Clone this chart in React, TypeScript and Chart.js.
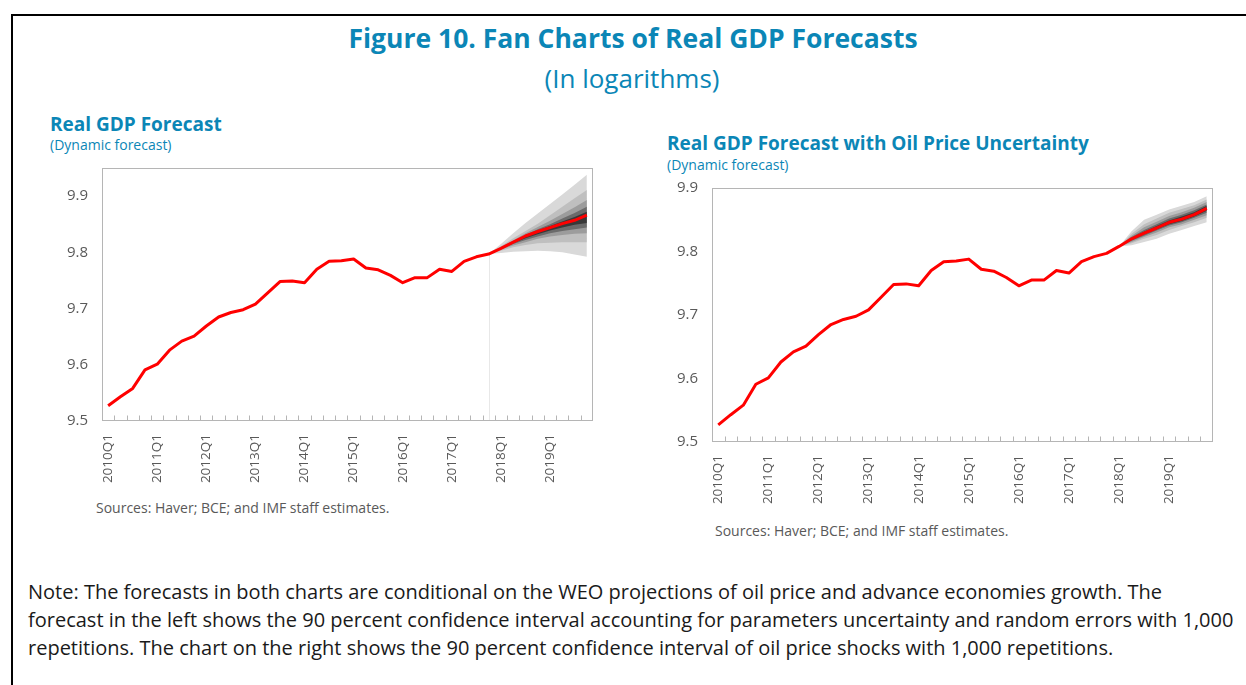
import React, { useEffect, useRef } from "react";
import { Chart, registerables } from "chart.js";
Chart.register(...registerables);

// ---------- DATA ----------
const years = ["2010", "2011", "2012", "2013", "2014", "2015", "2016", "2017", "2018", "2019"];
const quarterNames = ["Q1", "Q2", "Q3", "Q4"];
const categories: string[] = years.flatMap((y) => quarterNames.map((q) => y + q));

// Historical real GDP (log), 2010Q1–2017Q4
const historyValues = [
  9.527, 9.543, 9.558, 9.591, 9.601, 9.626, 9.642, 9.651,
  9.669, 9.685, 9.693, 9.698, 9.708, 9.728, 9.748, 9.749,
  9.746, 9.770, 9.784, 9.785, 9.788, 9.772, 9.769, 9.759,
  9.746, 9.755, 9.755, 9.770, 9.766, 9.784, 9.792, 9.797,
];

// Left chart: median forecast 2018Q1–2019Q4
const leftMedian = [9.807, 9.818, 9.829, 9.837, 9.844, 9.851, 9.857, 9.866];
// Left chart bands, 2017Q4–2019Q4 (outer to inner)
const leftOuterUp = [9.797, 9.815, 9.834, 9.852, 9.869, 9.886, 9.903, 9.920, 9.938];
const leftOuterLo = [9.797, 9.799, 9.801, 9.802, 9.803, 9.802, 9.800, 9.796, 9.792];
const leftB2Up = [9.797, 9.811, 9.825, 9.838, 9.851, 9.866, 9.881, 9.896, 9.911];
const leftB2Lo = [9.797, 9.803, 9.809, 9.813, 9.816, 9.817, 9.818, 9.818, 9.818];
const leftB3Up = [9.797, 9.809, 9.821, 9.834, 9.845, 9.856, 9.868, 9.880, 9.893];
const leftB3Lo = [9.797, 9.805, 9.812, 9.818, 9.824, 9.828, 9.831, 9.833, 9.834];
const leftB4Up = [9.797, 9.808, 9.819, 9.831, 9.841, 9.850, 9.860, 9.870, 9.881];
const leftB4Lo = [9.797, 9.806, 9.815, 9.822, 9.828, 9.834, 9.838, 9.841, 9.844];
const leftB5Up = [9.797, 9.808, 9.819, 9.830, 9.839, 9.847, 9.855, 9.863, 9.872];
const leftB5Lo = [9.797, 9.806, 9.816, 9.825, 9.832, 9.839, 9.844, 9.849, 9.852];

// Right chart: median forecast 2018Q1–2019Q4
const rightMedian = [9.808, 9.820, 9.829, 9.837, 9.846, 9.851, 9.858, 9.868];
// Right chart bands, 2018Q1–2019Q4 (outer to inner)
const rightOuterUp = [9.808, 9.832, 9.850, 9.858, 9.866, 9.872, 9.878, 9.887];
const rightOuterLo = [9.808, 9.810, 9.815, 9.820, 9.828, 9.834, 9.840, 9.846];
const rightB2Up = [9.808, 9.828, 9.843, 9.852, 9.861, 9.867, 9.873, 9.882];
const rightB2Lo = [9.808, 9.813, 9.820, 9.826, 9.834, 9.840, 9.846, 9.853];
const rightB3Up = [9.808, 9.825, 9.838, 9.847, 9.856, 9.862, 9.869, 9.878];
const rightB3Lo = [9.808, 9.815, 9.823, 9.830, 9.838, 9.843, 9.850, 9.857];
const rightB4Up = [9.808, 9.823, 9.834, 9.843, 9.852, 9.858, 9.865, 9.874];
const rightB4Lo = [9.808, 9.817, 9.825, 9.833, 9.841, 9.846, 9.853, 9.861];
const rightB5Up = [9.808, 9.821, 9.831, 9.840, 9.849, 9.855, 9.862, 9.872];
const rightB5Lo = [9.808, 9.818, 9.827, 9.835, 9.843, 9.848, 9.855, 9.864];

const bandColors = ["#d9d9d9", "#bfbfbf", "#9c9c9c", "#6b6b6b", "#383838"];

const FONT = "'Open Sans', 'Noto Sans', sans-serif";
const BLUE = "#0b86b6";
const GREY_TEXT = "#595959";

// ---------- HELPERS ----------
function pad(values: number[], startIndex: number): (number | null)[] {
  const out: (number | null)[] = categories.map(() => null);
  values.forEach((v, i) => (out[startIndex + i] = v));
  return out;
}

function bandDatasets(bands: number[][], start: number) {
  const ds: any[] = [];
  const pairs: [number[], number[], string][] = [];
  for (let i = 0; i < bands.length; i += 2) pairs.push([bands[i], bands[i + 1], bandColors[i / 2]]);
  // inner first so it's drawn last (Chart.js draws index 0 on top)
  pairs.reverse().forEach(([up, lo, col]) => {
    ds.push({
      data: pad(up, start),
      borderWidth: 0,
      pointRadius: 0,
      backgroundColor: col,
      fill: "+1",
    });
    ds.push({
      data: pad(lo, start),
      borderWidth: 0,
      pointRadius: 0,
      backgroundColor: col,
      fill: false,
    });
  });
  return ds;
}

const framePlugin = {
  id: "frameTicks",
  afterDatasetsDraw(chart: any) {
    const { ctx, chartArea, scales } = chart;
    const xs = scales.x;
    ctx.save();
    ctx.strokeStyle = "#b5b5b5";
    ctx.lineWidth = 1;
    const l = Math.round(chartArea.left) + 0.5;
    const t = Math.round(chartArea.top) + 0.5;
    const r = Math.round(chartArea.right) - 0.5;
    const b = Math.round(chartArea.bottom) - 0.5;
    ctx.strokeRect(l, t, r - l, b - t);
    const x0 = xs.getPixelForValue(0);
    const step = xs.getPixelForValue(1) - x0;
    ctx.beginPath();
    for (let i = 1; i < categories.length; i++) {
      const x = Math.round(x0 - step / 2 + i * step) + 0.5;
      ctx.moveTo(x, b);
      ctx.lineTo(x, b - 5);
    }
    ctx.stroke();
    ctx.restore();
  },
};

function makeDropLine(index: number, value: number) {
  return {
    id: "dropLine",
    beforeDatasetsDraw(chart: any) {
      const { ctx, chartArea, scales } = chart;
      const x = Math.round(scales.x.getPixelForValue(index)) + 0.5;
      const y = scales.y.getPixelForValue(value);
      ctx.save();
      ctx.strokeStyle = "#e8e8e8";
      ctx.lineWidth = 1;
      ctx.beginPath();
      ctx.moveTo(x, y);
      ctx.lineTo(x, chartArea.bottom);
      ctx.stroke();
      ctx.restore();
    },
  };
}

const zeroPad = (s: any) => {
  s.paddingTop = 0;
  s.paddingBottom = 0;
  s.paddingLeft = 0;
  s.paddingRight = 0;
};

type FanProps = {
  width: number;
  height: number;
  median: number[];
  bands: number[][];
  bandStart: number;
  yMax: number;
  dropLine: boolean;
};

function FanChart({ width, height, median, bands, bandStart, yMax, dropLine }: FanProps) {
  const ref = useRef<HTMLCanvasElement>(null);
  useEffect(() => {
    if (!ref.current) return;
    const line = [...historyValues, ...median];
    const plugins: any[] = [framePlugin];
    if (dropLine) plugins.push(makeDropLine(historyValues.length - 1, historyValues[historyValues.length - 1]));
    const chart = new Chart(ref.current, {
      type: "line",
      data: {
        labels: categories,
        datasets: [
          {
            data: line,
            borderColor: "#ff0000",
            borderWidth: 3,
            pointRadius: 0,
            fill: false,
            tension: 0,
            borderJoinStyle: "round",
          },
          ...bandDatasets(bands, bandStart),
        ],
      },
      options: {
        responsive: false,
        animation: false,
        devicePixelRatio: 1,
        layout: { padding: { top: 8, right: 7, left: 0, bottom: 0 } },
        plugins: { legend: { display: false }, tooltip: { enabled: false } },
        elements: { line: { tension: 0 } },
        scales: {
          x: {
            offset: true,
            grid: { display: false, drawTicks: false },
            border: { display: false },
            afterFit: (s: any) => {
              s.height = 74;
              zeroPad(s);
            },
            ticks: {
              autoSkip: false,
              maxRotation: 90,
              minRotation: 90,
              padding: 13,
              color: GREY_TEXT,
              font: { family: FONT, size: 13.5 },
              callback: (_v: any, i: number) => (categories[i].endsWith("Q1") ? categories[i] : ""),
            },
          },
          y: {
            min: 9.5,
            max: yMax,
            grid: { display: false, drawTicks: false },
            border: { display: false },
            afterFit: (s: any) => {
              s.width = 62;
              zeroPad(s);
            },
            ticks: {
              stepSize: 0.1,
              padding: 14,
              color: GREY_TEXT,
              font: { family: FONT, size: 15 },
              callback: (v: any) => {
                const n = Number(v);
                return Math.abs(n * 10 - Math.round(n * 10)) < 1e-6 ? n.toFixed(1) : "";
              },
            },
          },
        },
      },
      plugins,
    } as any);
    return () => chart.destroy();
  }, []);
  return <canvas ref={ref} width={width} height={height} style={{ width, height, display: "block" }} />;
}

const abs = (left: number, top: number, extra: any = {}): React.CSSProperties => ({
  position: "absolute",
  left,
  top,
  whiteSpace: "nowrap",
  fontFamily: FONT,
  ...extra,
});

const noteLines = [
  "Note: The forecasts in both charts are conditional on the WEO projections of oil price and advance economies growth. The",
  "forecast in the left shows the 90 percent confidence interval accounting for parameters uncertainty and random errors with 1,000",
  "repetitions. The chart on the right shows the 90 percent confidence interval of oil price shocks with 1,000 repetitions.",
];

export default function App() {
  return (
    <div
      style={{
        position: "fixed",
        left: 0,
        top: 0,
        width: 1246,
        height: 685,
        overflow: "hidden",
        background: "#fff",
      }}
    >
      <div
        style={{
          position: "absolute",
          left: 11,
          top: 14,
          width: 1260,
          height: 720,
          border: "2px solid #000",
        }}
      />
      <div
        style={abs(633, 23, {
          transform: "translateX(-50%)",
          fontSize: 26.5,
          lineHeight: "30px",
          fontWeight: 700,
          color: BLUE,
        })}
      >
        Figure 10. Fan Charts of Real GDP Forecasts
      </div>
      <div
        style={abs(632, 63, {
          transform: "translateX(-50%)",
          fontSize: 26,
          lineHeight: "30px",
          color: BLUE,
        })}
      >
        (In logarithms)
      </div>

      <div style={abs(50, 112, { fontSize: 19, lineHeight: "24px", fontWeight: 700, color: BLUE })}>
        Real GDP Forecast
      </div>
      <div style={abs(50, 136, { fontSize: 14, lineHeight: "18px", color: BLUE })}>(Dynamic forecast)</div>

      <div style={abs(667, 131, { fontSize: 19, lineHeight: "24px", fontWeight: 700, color: BLUE })}>
        Real GDP Forecast with Oil Price Uncertainty
      </div>
      <div style={abs(667, 156, { fontSize: 14, lineHeight: "18px", color: BLUE })}>(Dynamic forecast)</div>

      <div style={{ position: "absolute", left: 40, top: 160 }}>
        <FanChart
          width={560}
          height={335}
          median={leftMedian}
          bands={[leftOuterUp, leftOuterLo, leftB2Up, leftB2Lo, leftB3Up, leftB3Lo, leftB4Up, leftB4Lo, leftB5Up, leftB5Lo]}
          bandStart={31}
          yMax={9.95}
          dropLine={true}
        />
      </div>
      <div style={{ position: "absolute", left: 650, top: 180 }}>
        <FanChart
          width={570}
          height={336}
          median={rightMedian}
          bands={[rightOuterUp, rightOuterLo, rightB2Up, rightB2Lo, rightB3Up, rightB3Lo, rightB4Up, rightB4Lo, rightB5Up, rightB5Lo]}
          bandStart={32}
          yMax={9.9}
          dropLine={false}
        />
      </div>

      <div style={abs(96, 499, { fontSize: 14, lineHeight: "18px", color: GREY_TEXT })}>
        Sources: Haver; BCE; and IMF staff estimates.
      </div>
      <div style={abs(715, 522, { fontSize: 14, lineHeight: "18px", color: GREY_TEXT })}>
        Sources: Haver; BCE; and IMF staff estimates.
      </div>

      {noteLines.map((t, i) => (
        <div key={i} style={abs(28, 578 + i * 28, { fontSize: 20, lineHeight: "28px", color: "#1a1a1a" })}>
          {t}
        </div>
      ))}
    </div>
  );
}
